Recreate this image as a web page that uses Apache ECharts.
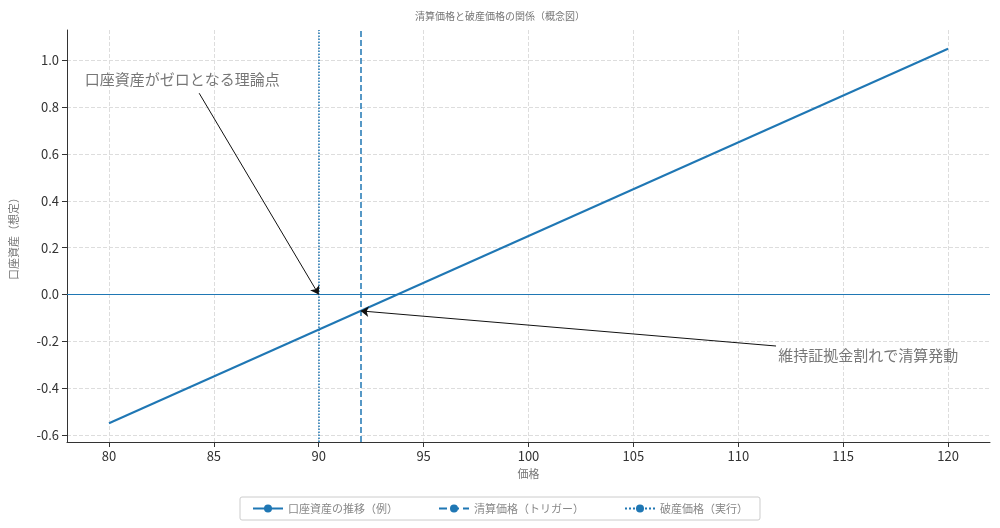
<!DOCTYPE html>
<html><head><meta charset="utf-8">
<script src="https://cdn.jsdelivr.net/npm/echarts@6/dist/echarts.min.js"></script>
<style>html,body{margin:0;background:#fff}#c{width:1000px;height:528px}</style>
</head><body><div id="c"></div>
<script>
const priceX = [80, 120];
const equity = [-0.55, 1.05];
const liquidationPrice = 92;
const bankruptcyPrice = 90;
const xTicks = [80, 85, 90, 95, 100, 105, 110, 115, 120];
const yTicks = [-0.6, -0.4, -0.2, 0, 0.2, 0.4, 0.6, 0.8, 1.0];
const names = ['口座資産の推移（例）', '清算価格（トリガー）', '破産価格（実行）'];

const blue = '#1f77b4';
const font = '"Noto Sans CJK JP", sans-serif';
const chart = echarts.init(document.getElementById('c'));
const vline = (name, x, type) => ({
  name, type: 'line', data: [], symbol: 'none', color: blue,
  itemStyle: { color: blue },
  lineStyle: { color: blue, type, width: 1.5 },
  markLine: { silent: true, symbol: 'none', label: { show: false },
    lineStyle: { color: blue, type, width: 1.5 }, data: [{ xAxis: x }] }
});
chart.setOption({
  animation: false,
  color: [blue],
  textStyle: { fontFamily: font },
  title: { text: '清算価格と破産価格の関係（概念図）', left: 'center', top: 6,
    textStyle: { fontSize: 10, color: '#777', fontWeight: 'normal' } },
  grid: { left: 65, right: 10, top: 30, bottom: 86 },
  legend: { bottom: 8, itemWidth: 30, itemHeight: 10, itemGap: 40, borderColor: '#ccc', borderWidth: 1,
    borderRadius: 2, padding: [6, 12], textStyle: { color: '#888', fontSize: 11 },
    data: names },
  xAxis: { type: 'value', min: 78, max: 122, name: '価格', nameLocation: 'middle', nameGap: 22,
    nameTextStyle: { color: '#777', fontSize: 11 },
    axisLine: { onZero: false, lineStyle: { color: '#333' } },
    axisTick: { show: true, customValues: xTicks, lineStyle: { color: '#333' } },
    axisLabel: { customValues: xTicks, color: '#333', fontSize: 13 },
    splitLine: { show: true, lineStyle: { color: '#ddd', type: 'dashed' } } },
  yAxis: { type: 'value', min: -0.63, max: 1.13, name: '口座資産（想定）', nameLocation: 'middle', nameGap: 48,
    nameTextStyle: { color: '#777', fontSize: 11 },
    axisLine: { show: true, lineStyle: { color: '#333' } },
    axisTick: { show: true, customValues: yTicks, lineStyle: { color: '#333' } },
    axisLabel: { customValues: yTicks, color: '#333', fontSize: 13, formatter: v => v.toFixed(1) },
    splitLine: { show: true, lineStyle: { color: '#ddd', type: 'dashed' } } },
  series: [
    { name: names[0], type: 'line', data: priceX.map((x, i) => [x, equity[i]]), symbol: 'none',
      lineStyle: { color: blue, width: 2 }, itemStyle: { color: blue },
      markLine: { silent: true, symbol: 'none', label: { show: false },
        lineStyle: { color: blue, type: 'solid', width: 1.2 }, data: [{ yAxis: 0 }] } },
    vline(names[1], liquidationPrice, 'dashed'),
    vline(names[2], bankruptcyPrice, 'dotted'),
    { type: 'line', data: [], markLine: { silent: true, symbol: ['none', 'arrow'], symbolSize: 8,
        label: { show: false }, lineStyle: { color: '#111', type: 'solid', width: 1 },
        data: [
          [{ coord: [84.3, 0.86] }, { coord: [bankruptcyPrice, 0] }],
          [{ coord: [111.8, -0.22] }, { coord: [liquidationPrice, -0.07] }]
        ] } }
  ]
});
const p1 = chart.convertToPixel({ gridIndex: 0 }, [78.85, 0.92]);
const p2 = chart.convertToPixel({ gridIndex: 0 }, [111.9, -0.26]);
chart.setOption({ graphic: [
  { type: 'text', x: p1[0], y: p1[1], style: { text: '口座資産がゼロとなる理論点', fill: '#777', fontSize: 15, fontFamily: font, textVerticalAlign: 'middle' } },
  { type: 'text', x: p2[0], y: p2[1], style: { text: '維持証拠金割れで清算発動', fill: '#777', fontSize: 15, fontFamily: font, textVerticalAlign: 'middle' } }
] });
</script></body></html>
